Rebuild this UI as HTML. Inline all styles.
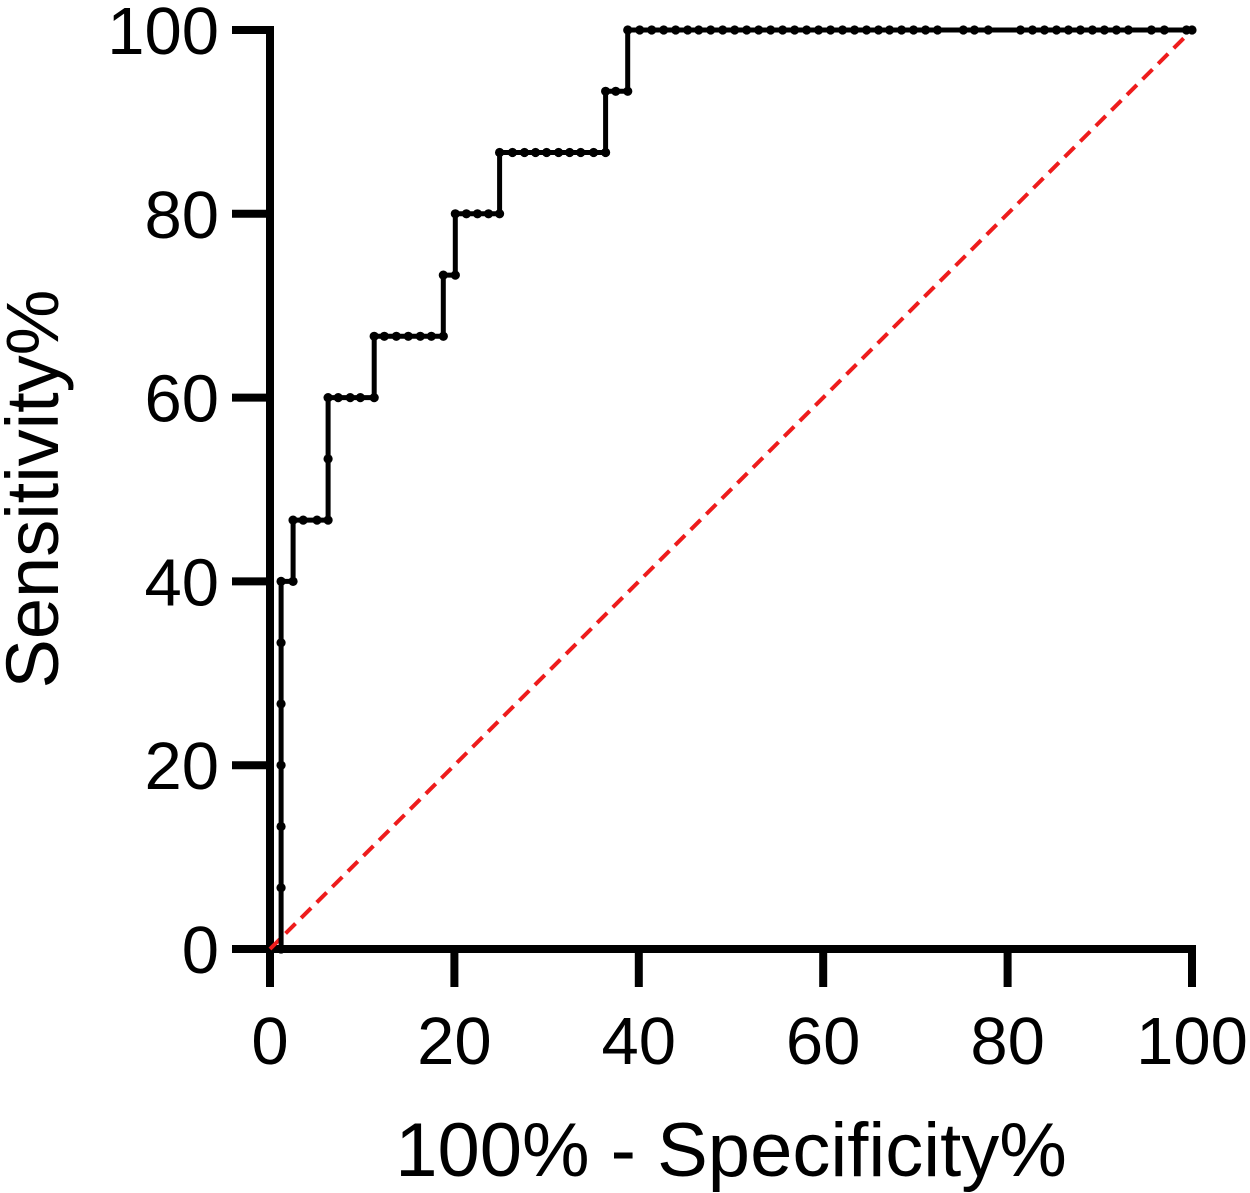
<!DOCTYPE html>
<html><head><meta charset="utf-8"><style>
html,body{margin:0;padding:0;background:#fff;}
svg{display:block;font-family:"Liberation Sans",Arial,sans-serif;}
</style></head><body>
<svg id="chart" width="1250" height="1193" viewBox="0 0 1250 1193" xmlns="http://www.w3.org/2000/svg">
<g id="grid"></g>
<g id="series"></g>
<text x="731" y="1176" font-size="76" text-anchor="middle">100% - Specificity%</text>
<text transform="translate(58,489) rotate(-90)" font-size="74" text-anchor="middle">Sensitivity%</text>
</svg>
<script>
const fprValues = [1.2,1.2,1.2,1.2,1.2,1.2,1.2,2.5,2.5,3.6,5.1,6.3,6.3,6.3,7.4,8.7,9.8,11.3,11.3,12.4,13.7,15.0,16.3,17.5,18.8,18.8,20.1,20.1,21.3,22.5,23.7,24.9,24.9,26.3,27.6,28.8,30.0,31.3,32.5,33.7,35.1,36.4,36.4,37.5,38.8,38.8,40.1,41.4,42.7,44.0,45.3,46.5,47.8,49.1,50.4,51.7,53.0,54.3,55.6,56.9,58.2,59.5,60.8,62.1,63.4,64.7,66.0,67.2,68.5,69.8,71.1,72.4,75.2,76.4,77.9,81.4,82.7,84.0,85.3,86.6,87.9,89.2,90.5,91.8,93.1,95.6,97.0,99.4,100];
const tprValues = [0,6.67,13.33,20,26.67,33.33,40,40,46.67,46.67,46.67,46.67,53.33,60,60,60,60,60,66.67,66.67,66.67,66.67,66.67,66.67,66.67,73.33,73.33,80,80,80,80,80,86.67,86.67,86.67,86.67,86.67,86.67,86.67,86.67,86.67,86.67,93.33,93.33,93.33,100,100,100,100,100,100,100,100,100,100,100,100,100,100,100,100,100,100,100,100,100,100,100,100,100,100,100,100,100,100,100,100,100,100,100,100,100,100,100,100,100,100,100,100];
const xTickLabels = ["0","20","40","60","80","100"];
const yTickLabels = ["0","20","40","60","80","100"];
const refLine = [[0,0],[100,100]];

const NS="http://www.w3.org/2000/svg";
const X0=270,X1=1192,Y0=949,Y1=30;
function sx(v){return X0+(X1-X0)*v/100;}
function sy(v){return Y0-(Y0-Y1)*v/100;}
function mk(tag,attrs,parent){const e=document.createElementNS(NS,tag);for(const k in attrs)e.setAttribute(k,attrs[k]);parent.appendChild(e);return e;}
const g=document.getElementById('grid'), s=document.getElementById('series');

let e=mk('line',{x1:X0,y1:Y1-4,x2:X0,y2:Y0+4,stroke:'#000','stroke-width':8},g);


e=mk('line',{x1:232,y1:Y0,x2:1196,y2:Y0,stroke:'#000','stroke-width':8},g);


yTickLabels.forEach(t=>{const v=+t;
 let l=mk('line',{x1:232,y1:sy(v),x2:X0,y2:sy(v),stroke:'#000','stroke-width':8},g);
 
 
 let tx=mk('text',{x:219,y:sy(v)+24,'font-size':67,'text-anchor':'end'},g);tx.textContent=t;
 
 
});
xTickLabels.forEach(t=>{const v=+t;
 let l=mk('line',{x1:sx(v),y1:Y0,x2:sx(v),y2:987,stroke:'#000','stroke-width':8},g);
 
 
 let tx=mk('text',{x:sx(v),y:1064,'font-size':67,'text-anchor':'middle'},g);tx.textContent=t;
 
 
});
let r=mk('line',{x1:sx(refLine[0][0]),y1:sy(refLine[0][1]),x2:sx(refLine[1][0]),y2:sy(refLine[1][1]),stroke:'#ee1c1c','stroke-width':4,'stroke-dasharray':'14 8'},s);


let d=fprValues.map((f,i)=>(i?'L':'M')+sx(f).toFixed(1)+' '+sy(tprValues[i]).toFixed(1)).join(' ');
let p=mk('path',{d:d,fill:'none',stroke:'#000','stroke-width':5},s);


fprValues.forEach((f,i)=>{
 let c=mk('circle',{cx:sx(f),cy:sy(tprValues[i]),r:4.6,fill:'#000'},s);
 
 
});
</script>
</body></html>
